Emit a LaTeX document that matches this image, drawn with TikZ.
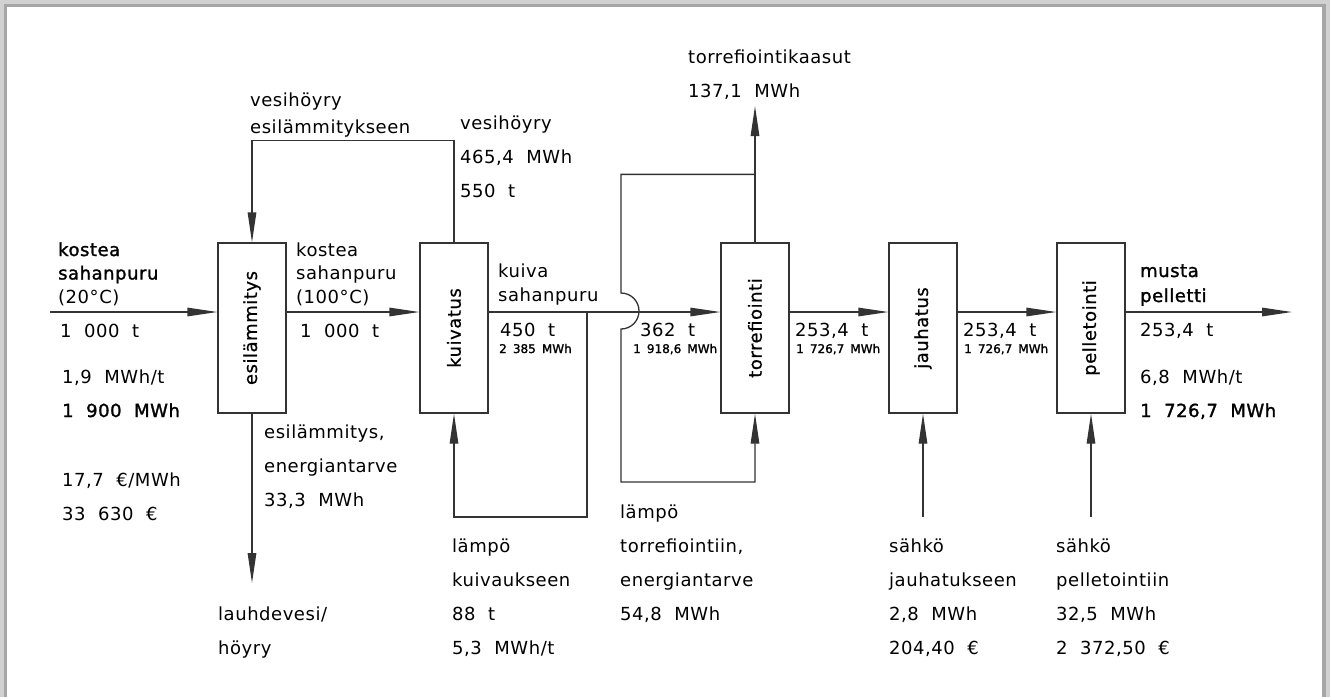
\documentclass[tikz,border=0pt]{standalone}
\usepackage{fontspec}
\setmainfont{DejaVu Sans}[LetterSpace=3,WordSpace=2]
\newfontfamily\cadbold{DejaVu Sans}[LetterSpace=3,WordSpace=2,FakeBold=1.5]
\newfontfamily\cadmed{DejaVu Sans}[LetterSpace=3,FakeBold=0.7]
\newfontfamily\cadsmall{DejaVu Sans}[WordSpace=1.6,FakeBold=1.5]
\usetikzlibrary{positioning, arrows.meta, calc}

\tikzset{
  proc/.style={draw=black!80, line width=1.3pt, minimum width=68pt,
    minimum height=170pt, inner sep=0pt, font=\fontsize{18}{22}\selectfont\cadmed},
  flow/.style={->, draw=black!80, line width=1.3pt},
  lbl/.style={anchor=base west, inner sep=0pt, align=left,
    font=\fontsize{18}{34}\selectfont},
  stream/.style={lbl, font=\fontsize{18}{23.5}\selectfont},
  smallval/.style={anchor=base west, inner sep=0pt,
    font=\fontsize{12}{14}\selectfont\cadsmall},
}

\begin{document}
\begin{tikzpicture}[x=1pt, y=-1pt, >={Triangle[length=30pt, width=8.5pt]}]
    \useasboundingbox (0,0) rectangle (1330,697);
    % frame with shadow
    \fill[black!18] (0,0) rectangle (1330,697);
    \fill[black!35] (4,4) rectangle (1326,697);
    \fill[white] (7,7) rectangle (1322,697);

    % process boxes
    \node[proc] (esi)  at (252,328) {\rotatebox{90}{esilämmitys}};
    \node[proc] (kuiv) at (454,328) {\rotatebox{90}{kuivatus}};
    \node[proc] (torr) at (755,328) {\rotatebox{90}{torrefiointi}};
    \node[proc] (jauh) at (923,328) {\rotatebox{90}{jauhatus}};
    \node[proc] (pell) at (1091,328) {\rotatebox{90}{pelletointi}};

    % free ends
    \coordinate (src)    at (50,312);
    \coordinate (out)    at (1292,312);
    \coordinate (ksplit) at (587,312);
    \coordinate (tsplit) at ($(torr.north)+(0,-68)$);
    \coordinate (gas)    at (755,106);
    \coordinate (cond)   at (252,583);
    \coordinate (jin)    at (923,517);
    \coordinate (pin)    at (1091,517);

    % main line
    \draw[flow] (src) -- (esi.west |- src);
    \draw[flow] (esi.east |- src) -- (kuiv.west |- src);
    \draw[flow] (kuiv.east |- src) -- (torr.west |- src);
    \draw[flow] (torr.east |- src) -- (jauh.west |- src);
    \draw[flow] (jauh.east |- src) -- (pell.west |- src);
    \draw[flow] (pell.east |- src) -- (out);

    % steam back to preheating
    \draw[flow] (kuiv.north) -- ++(0,-102) -| (esi.north);
    \draw[flow] (esi.south) -- (cond);
    % heat for drying
    \draw[flow] (ksplit) -- ++(0,205) -| (kuiv.south);
    % torrefaction gases, part back as heat (hop over main line)
    \draw[flow] (torr.north) -- (gas);
    \draw[flow] (tsplit) -| (621,293) arc[start angle=-90, end angle=90, radius=18]
        -- (621,482) -| (torr.south);
    % electricity
    \draw[flow] (jin) -- (jauh.south);
    \draw[flow] (pin) -- (pell.south);

    % feed (multi-line nodes sit on their last baseline)
    \node[stream] (feedname) at (58,303) {{\cadbold kostea}\\{\cadbold sahanpuru}\\(20°C)};
    \node[lbl] (feedmass) at (60,337) {1 000 t};
    \node[lbl] (feedenergy) at (62,417) {1,9 MWh/t\\{\cadbold 1 900 MWh}};
    \node[lbl] (feedcost) at (62,520) {17,7 €/MWh\\33 630 €};
    % preheated
    \node[stream] (hotname) at (296,303) {kostea\\sahanpuru\\(100°C)};
    \node[lbl] (hotmass) at (300,337) {1 000 t};
    \node[lbl] (preheat) at (264,506) {esilämmitys,\\energiantarve\\33,3 MWh};
    \node[lbl] (condname) at (218,654) {lauhdevesi/\\höyry};
    % steam
    \node[lbl, font=\fontsize{18}{27}\selectfont] (steamin) at (250,133)
        {vesihöyry\\esilämmitykseen};
    \node[lbl] (steamout) at (460,197) {vesihöyry\\465,4 MWh\\550 t};
    % dried
    \node[stream, font=\fontsize{18}{24}\selectfont] (dryname) at (498,301) {kuiva\\sahanpuru};
    \node[lbl] (drymass) at (500,336) {450 t};
    \node[smallval] (dryenergy) at (499,353) {2 385 MWh};
    \node[lbl] (torrmass) at (640,336) {362 t};
    \node[smallval] (torrenergy) at (633,353) {1 918,6 MWh};
    \node[lbl] (gasname) at (688,97) {torrefiointikaasut\\137,1 MWh};
    % ground and pellets
    \node[lbl] (jauhmass) at (795,336) {253,4 t};
    \node[smallval] (jauhenergy) at (796,353) {1 726,7 MWh};
    \node[lbl] (pellmass) at (963,336) {253,4 t};
    \node[smallval] (pellenergy) at (964,353) {1 726,7 MWh};
    \node[stream, font=\fontsize{18}{25}\selectfont] (prodname) at (1140,302)
        {{\cadbold musta}\\{\cadbold pelletti}};
    \node[lbl] (prodmass) at (1140,336) {253,4 t};
    \node[lbl] (prodenergy) at (1140,417) {6,8 MWh/t\\{\cadbold 1 726,7 MWh}};
    % heat and electricity inputs
    \node[lbl] (dryheat) at (452,654) {lämpö\\kuivaukseen\\88 t\\5,3 MWh/t};
    \node[lbl] (torrheat) at (620,620) {lämpö\\torrefiointiin,\\energiantarve\\54,8 MWh};
    \node[lbl] (jauhel) at (889,654) {sähkö\\jauhatukseen\\2,8 MWh\\204,40 €};
    \node[lbl] (pellel) at (1056,654) {sähkö\\pelletointiin\\32,5 MWh\\2 372,50 €};
\end{tikzpicture}
\end{document}
